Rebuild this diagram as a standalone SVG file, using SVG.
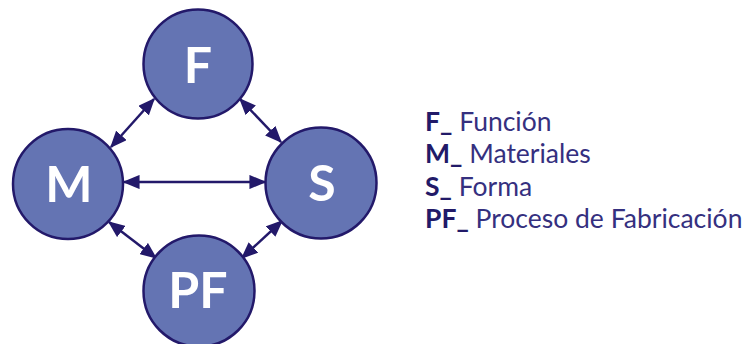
<svg xmlns="http://www.w3.org/2000/svg" width="749" height="344" viewBox="0 0 749 344">
<style>
.node{fill:#6474b3;stroke:#23196a;stroke-width:2.5}
.lbl{font-family:Lato,"Open Sans","Liberation Sans",sans-serif;font-weight:bold;fill:#ffffff;text-anchor:middle;font-size:50px}
.conn{stroke:#23196a;stroke-width:2.5;fill:none;marker-start:url(#ah);marker-end:url(#ah)}
.leg{font-family:Lato,"Open Sans","Liberation Sans",sans-serif;font-size:26.5px;fill:#35307f}
.leg tspan.b{font-weight:bold;fill:#221a68}
</style>
<defs>
<marker id="ah" viewBox="0 0 12 10" refX="11" refY="5" markerWidth="6.8" markerHeight="5.7" markerUnits="strokeWidth" orient="auto-start-reverse">
<path d="M0,0 L12,5 L0,10 Z" fill="#23196a"/>
</marker>
</defs>
<rect width="749" height="344" fill="#ffffff"/>
<g id="connectors">
<line class="conn" x1="124" y1="182" x2="265" y2="182"/>
<line class="conn" x1="111" y1="147" x2="154" y2="99"/>
<line class="conn" x1="240" y1="99" x2="281" y2="142"/>
<line class="conn" x1="109" y1="222" x2="156" y2="258"/>
<line class="conn" x1="282" y1="221" x2="242" y2="258"/>
</g>
<g id="node-F">
<circle class="node" cx="198" cy="64" r="54.5"/>
<text class="lbl" x="198" y="83">F</text>
</g>
<g id="node-M">
<circle class="node" cx="68" cy="184" r="55"/>
<text class="lbl" x="69" y="202">M</text>
</g>
<g id="node-S">
<circle class="node" cx="321" cy="183" r="55.5"/>
<text class="lbl" x="322" y="201">S</text>
</g>
<g id="node-PF">
<circle class="node" cx="199" cy="291" r="55.5"/>
<text class="lbl" x="198" y="308">PF</text>
</g>
<g id="legend">
<text class="leg" x="425" y="131"><tspan class="b">F_</tspan> Función</text>
<text class="leg" x="425" y="163"><tspan class="b">M_</tspan> Materiales</text>
<text class="leg" x="425" y="196"><tspan class="b">S_</tspan> Forma</text>
<text class="leg" x="425" y="228"><tspan class="b">PF_</tspan> Proceso de Fabricación</text>
</g>
</svg>
